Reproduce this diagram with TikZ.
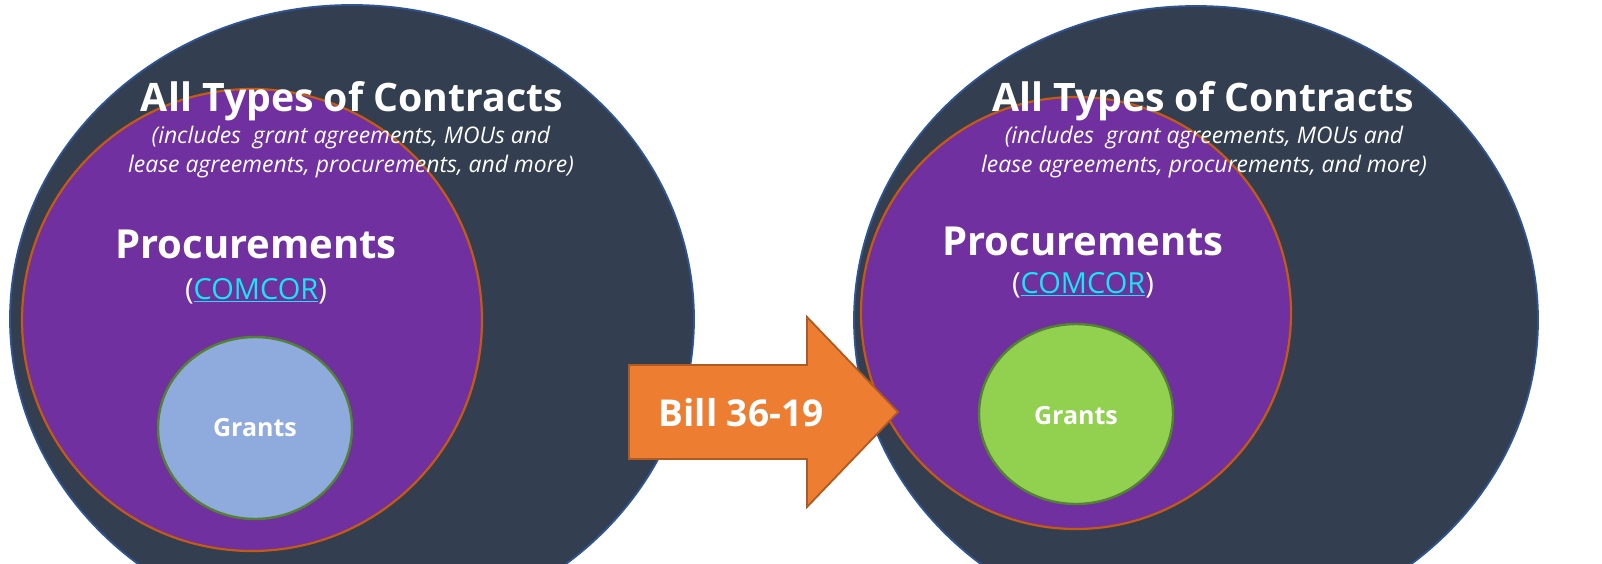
\documentclass[tikz,border=0pt]{standalone}
\usepackage{fontspec}
\setmainfont{Open Sans}
\usetikzlibrary{shapes.geometric}
\definecolor{outerfill}{HTML}{333F50}
\definecolor{outerline}{HTML}{2F5597}
\definecolor{procfill}{HTML}{7030A0}
\definecolor{procline}{HTML}{C55A11}
\definecolor{grantblue}{HTML}{8FAADC}
\definecolor{grantgreen}{HTML}{92D050}
\definecolor{grantline}{HTML}{548235}
\definecolor{arrowfill}{HTML}{ED7D31}
\definecolor{arrowline}{HTML}{AE5A21}
\definecolor{linkcyan}{HTML}{14E8F2}
\tikzset{
  blob/.style={ellipse, inner sep=0pt, outer sep=0pt},
  outerblob/.style={blob, fill=outerfill, draw=outerline, line width=1.8pt},
  procblob/.style={blob, fill=procfill, draw=procline, line width=2.2pt},
  grantblob/.style={blob, draw=grantline, line width=2.4pt},
  title/.style={text=white, font=\fontsize{39.2}{45}\selectfont\bfseries, inner sep=0pt},
  sub/.style={text=white, font=\fontsize{22.9}{28.5}\selectfont\itshape, align=center, inner sep=0pt},
  proc/.style={text=white, font=\fontsize{40}{46}\selectfont\bfseries, inner sep=0pt},
  link/.style={text=white, font=\fontsize{29}{34}\selectfont, inner sep=0pt},
  glabel/.style={text=white, font=\fontsize{25}{30}\selectfont\bfseries, inner sep=0pt},
  billtext/.style={text=white, font=\fontsize{37}{42}\selectfont\bfseries, inner sep=0pt}
}
\newcommand{\comcorlink}{(\textcolor{linkcyan}{\underline{COMCOR}})}
\begin{document}
\begin{tikzpicture}[x=1pt, y=-1pt]
\useasboundingbox (0,0) rectangle (1602,564);
\fill[white] (0,0) rectangle (1602,564);
\clip (0,0) rectangle (1602,564);
% left group
\node[outerblob, minimum width=684pt, minimum height=628pt] (outerL) at (352,319) {};
\node[procblob, minimum width=460pt, minimum height=462pt] (procL) at (252,320) {};
\node[grantblob, fill=grantblue, minimum width=194pt, minimum height=182pt] (grantL) at (255,428) {};
\node[title] (titleL) at (352,101) {All Types of Contracts};
\node[sub] (subL) at (351,152) {(includes\ \ grant agreements, MOUs and\\lease agreements, procurements, and more)};
\node[proc] (procTL) at (256,244) {Procurements};
\node[link] (linkL) at (256,291) {\comcorlink};
\node[glabel] (gtL) at (255,428) {Grants};
% right group
\node[outerblob, minimum width=684pt, minimum height=628pt] (outerR) at (1196,320) {};
\node[procblob, minimum width=430pt, minimum height=432pt] (procR) at (1076,313) {};
\node[grantblob, fill=grantgreen, minimum width=194pt, minimum height=180pt] (grantR) at (1076,414) {};
\node[title] (titleR) at (1203,101) {All Types of Contracts};
\node[sub] (subR) at (1204,152) {(includes\ \ grant agreements, MOUs and\\lease agreements, procurements, and more)};
\node[proc] (procTR) at (1083,241) {Procurements};
\node[link] (linkR) at (1083,285) {\comcorlink};
\node[glabel] (gtR) at (1076,416) {Grants};
% arrow
\draw[fill=arrowfill, draw=arrowline, line width=1.8pt, line join=miter]
  (629,365) -- (807,365) -- (807,317) -- (898,412) -- (807,507) -- (807,459) -- (629,459) -- cycle;
\node[billtext] (bill) at (741,413) {Bill 36-19};
\end{tikzpicture}
\end{document}
